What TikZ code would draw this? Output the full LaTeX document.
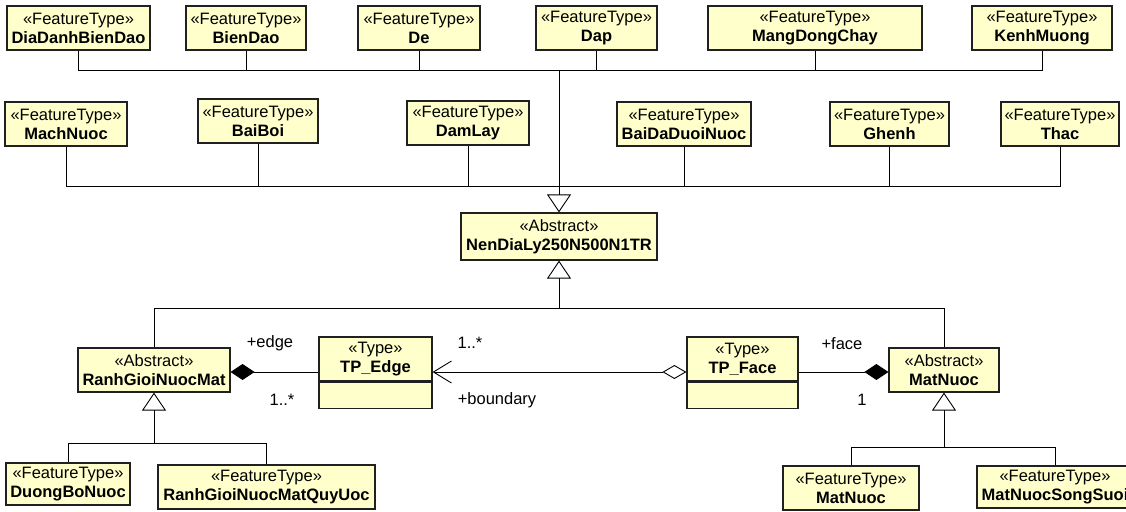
\documentclass[tikz,border=0pt]{standalone}
\usepackage{fontspec}
\setmainfont{Liberation Sans}
\usetikzlibrary{arrows.meta}
\definecolor{boxfill}{HTML}{FFFFCC}
\definecolor{boxline}{HTML}{202020}
\newcommand\ftype[1]{«FeatureType»\\\textbf{#1}}
\newcommand\abstr[1]{«Abstract»\\\textbf{#1}}
\newcommand\utype[1]{«Type»\\\textbf{#1}}
\begin{document}
\begin{tikzpicture}[x=1pt,y=-1pt,
  uml/.style={draw=boxline, line width=1.2pt, fill=boxfill, align=center, inner sep=0pt,
    font=\fontsize{16.5}{19}\selectfont},
  lbl/.style={inner sep=0pt, font=\fontsize{16.5}{19}\selectfont},
  conn/.style={draw=black, line width=0.9pt},
  gen/.style={conn, -{Triangle[open, length=18pt, width=24pt]}},
]
\useasboundingbox (0,0) rectangle (1126,511);
\clip (0,0) rectangle (1126,511);
\fill[white] (0,0) rectangle (1126,511);

% top row
\node[uml, minimum width=143pt, minimum height=44pt] (dia)  at (78.5,28) {\ftype{DiaDanhBienDao}};
\node[uml, minimum width=120pt, minimum height=44pt] (bien) at (246,28)  {\ftype{BienDao}};
\node[uml, minimum width=122pt, minimum height=44pt] (de)   at (419,28)  {\ftype{De}};
\node[uml, minimum width=121pt, minimum height=44pt] (dap)  at (596.5,28) {\ftype{Dap}};
\node[uml, minimum width=214pt, minimum height=44pt] (mang) at (815,28)  {\ftype{MangDongChay}};
\node[uml, minimum width=140pt, minimum height=44pt] (kenh) at (1042,28) {\ftype{KenhMuong}};

% second row
\node[uml, minimum width=122pt, minimum height=44pt] (mach)   at (66,124)   {\ftype{MachNuoc}};
\node[uml, minimum width=120pt, minimum height=44pt] (baiboi) at (258,121)  {\ftype{BaiBoi}};
\node[uml, minimum width=122pt, minimum height=44pt] (damlay) at (468,123)  {\ftype{DamLay}};
\node[uml, minimum width=134pt, minimum height=44pt] (baida)  at (684,124)  {\ftype{BaiDaDuoiNuoc}};
\node[uml, minimum width=119pt, minimum height=44pt] (ghenh)  at (889.5,124) {\ftype{Ghenh}};
\node[uml, minimum width=118pt, minimum height=44pt] (thac)   at (1060,124) {\ftype{Thac}};

% abstract root
\node[uml, minimum width=196pt, minimum height=47pt] (nen) at (559,236.5) {\abstr{NenDiaLy250N500N1TR}};

\coordinate (j1) at (559,70);
\coordinate (j2) at (559,186);
\foreach \n in {dia,bien,de,dap,mang,kenh} \draw[conn] (\n.south) |- (j1);
\foreach \n in {mach,baiboi,damlay,baida,ghenh,thac} \draw[conn] (\n.south) |- (j2);
\draw[gen] (j1) -- (nen.north);

% middle row
\node[uml, minimum width=152pt, minimum height=44pt] (rgnm) at (154,370) {\abstr{RanhGioiNuocMat}};
\node[uml, minimum width=110pt, minimum height=44pt] (matA) at (944,370) {\abstr{MatNuoc}};
\node[uml, minimum width=113pt, minimum height=44pt] (edgeh) at (375.5,359) {\utype{TP\_Edge}};
\node[uml, minimum width=113pt, minimum height=26pt, anchor=north] (edgea) at (edgeh.south) {};
\node[uml, minimum width=111pt, minimum height=44pt] (faceh) at (742.5,359) {\utype{TP\_Face}};
\node[uml, minimum width=111pt, minimum height=26pt, anchor=north] (facea) at (faceh.south) {};

\coordinate (j3) at (559,308);
\draw[gen] (j3) -- (nen.south);
\draw[conn] (rgnm.north) |- (j3);
\draw[conn] (matA.north) |- (j3);

% associations
\coordinate (ay) at (0,372);
\draw[conn, {Diamond[length=24pt, width=16pt]}-] (rgnm.east |- ay) -- (edgeh.west |- ay);
\draw[conn, {Straight Barb[length=18pt, width=22pt]}-{Diamond[open, length=24pt, width=14pt]}] (edgeh.east |- ay) -- (faceh.west |- ay);
\draw[conn, -{Diamond[length=24pt, width=16pt]}] (faceh.east |- ay) -- (matA.west |- ay);

\node[lbl] (l1) at (270,343) {+edge};
\node[lbl] (l2) at (282,400) {1..*};
\node[lbl] (l3) at (470,343) {1..*};
\node[lbl] (l4) at (497,400) {+boundary};
\node[lbl] (l5) at (842,344) {+face};
\node[lbl] (l6) at (862,400) {1};

% bottom left
\node[uml, minimum width=124pt, minimum height=42pt] (duong) at (68,484) {\ftype{DuongBoNuoc}};
\node[uml, minimum width=217pt, minimum height=44pt] (rgqu) at (266.5,487) {\ftype{RanhGioiNuocMatQuyUoc}};
\coordinate (j4) at (154,443);
\draw[gen] (j4) -- (rgnm.south);
\draw[conn] (duong.north) |- (j4);
\draw[conn] (rgqu.north) |- (j4);

% bottom right
\node[uml, minimum width=136pt, minimum height=44pt] (matF) at (851,488) {\ftype{MatNuoc}};
\node[uml, minimum width=156pt, minimum height=42pt] (mnss) at (1055,487) {\ftype{MatNuocSongSuoi}};
\coordinate (j5) at (944,447);
\draw[gen] (j5) -- (matA.south);
\draw[conn] (matF.north) |- (j5);
\draw[conn] (mnss.north) |- (j5);
\end{tikzpicture}
\end{document}
